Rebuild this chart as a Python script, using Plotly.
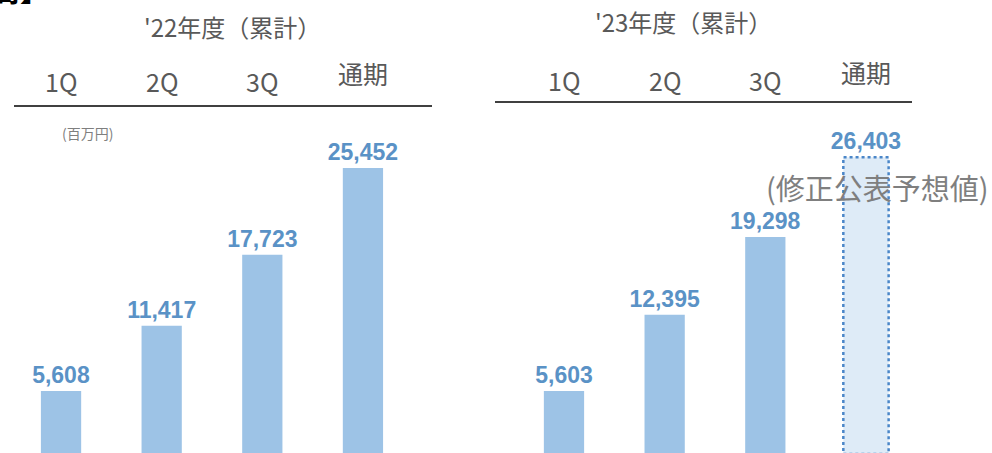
import plotly.graph_objects as go

# ---- data ----
quarters = ["1Q", "2Q", "3Q", "通期"]
fy22_values = [5608, 11417, 17723, 25452]
fy23_values = [5603, 12395, 19298, 26403]
fy23_forecast = [False, False, False, True]
title_22 = "'22年度（累計）"
title_23 = "'23年度（累計）"
unit_label = "(百万円)"
forecast_label = "(修正公表予想値)"
corner_label = "高】"

W, H = 992, 453
BAR = "#9dc3e6"
BAR_FC = "#deebf7"
LBL = "#5a92c6"
GRAY = "#595959"

def py(p):
    return 1 - p / H

fig = go.Figure()

fig.add_trace(go.Bar(
    x=quarters, y=fy22_values, xaxis="x", yaxis="y",
    marker=dict(color=BAR, line=dict(width=0)), width=0.4,
    texttemplate="%{y:,}", textposition="outside", constraintext="none",
    textfont=dict(family="Liberation Sans", size=23, color=LBL, weight="bold"),
    cliponaxis=False, showlegend=False, hoverinfo="skip",
))

fig.add_trace(go.Bar(
    x=quarters, y=fy23_values, xaxis="x2", yaxis="y",
    marker=dict(color=[BAR_FC if f else BAR for f in fy23_forecast], line=dict(width=0)),
    width=[0.45 if f else 0.4 for f in fy23_forecast],
    texttemplate="%{y:,}", textposition="outside", constraintext="none",
    textfont=dict(family="Liberation Sans", size=23, color=LBL, weight="bold"),
    cliponaxis=False, showlegend=False, hoverinfo="skip",
))

shapes = []
# dotted outline of forecast bar(s)
for i, (v, f) in enumerate(zip(fy23_values, fy23_forecast)):
    if f:
        shapes.append(dict(type="rect", xref="x2", yref="y",
                           x0=i - 0.225, x1=i + 0.225, y0=0, y1=v,
                           line=dict(color="#4a86c8", width=2.5, dash="dot"),
                           fillcolor="rgba(0,0,0,0)", layer="above"))

# header rules
shapes.append(dict(type="line", xref="paper", yref="paper",
                   x0=14 / W, x1=432 / W, y0=py(106), y1=py(106),
                   line=dict(color="#404040", width=2)))
shapes.append(dict(type="line", xref="paper", yref="paper",
                   x0=495 / W, x1=912 / W, y0=py(102), y1=py(102),
                   line=dict(color="#404040", width=2)))

ann = []
HF = "Noto Sans CJK JP"
ann.append(dict(text=title_22, xref="paper", yref="paper", x=232 / W, y=py(27),
                showarrow=False, xanchor="center", yanchor="middle",
                font=dict(family=HF, size=24, color=GRAY)))
ann.append(dict(text=title_23, xref="paper", yref="paper", x=683 / W, y=py(21),
                showarrow=False, xanchor="center", yanchor="middle",
                font=dict(family=HF, size=24, color=GRAY)))

for xr, ybase in (("x", 81), ("x2", 80)):
    for q in quarters:
        is_cjk = not q.isascii()
        ann.append(dict(text=q, xref=xr, yref="paper", x=q,
                        y=py(ybase - 8 if is_cjk else ybase),
                        showarrow=False, xanchor="center", yanchor="middle",
                        font=dict(family=HF, size=25, color=GRAY)))

ann.append(dict(text=unit_label, xref="paper", yref="paper", x=87 / W, y=py(133),
                showarrow=False, xanchor="center", yanchor="middle",
                font=dict(family=HF, size=14, color="#7f7f7f")))
ann.append(dict(text=forecast_label, xref="paper", yref="paper", x=991 / W, y=py(187),
                showarrow=False, xanchor="right", yanchor="middle",
                font=dict(family=HF, size=29, color="#7f7f7f")))
ann.append(dict(text=corner_label, xref="paper", yref="paper", x=52 / W, y=py(12),
                showarrow=False, xanchor="right", yanchor="bottom",
                font=dict(family=HF, size=30, color="#000000", weight="bold")))

fig.update_layout(
    width=W, height=H,
    margin=dict(l=0, r=0, t=0, b=0),
    paper_bgcolor="white", plot_bgcolor="white",
    xaxis=dict(domain=[0.0108, 0.4166], type="category", range=[-0.5, 3.5],
               showticklabels=False, showgrid=False, zeroline=False, showline=False,
               anchor="y"),
    xaxis2=dict(domain=[0.5178, 0.9237], type="category", range=[-0.5, 3.5],
                showticklabels=False, showgrid=False, zeroline=False, showline=False,
                anchor="y"),
    yaxis=dict(domain=[0, 1], range=[80, 40400], showticklabels=False,
               showgrid=False, zeroline=False, showline=False),
    bargap=0.6,
    shapes=shapes,
    annotations=ann,
)

fig.write_html("out.html")
